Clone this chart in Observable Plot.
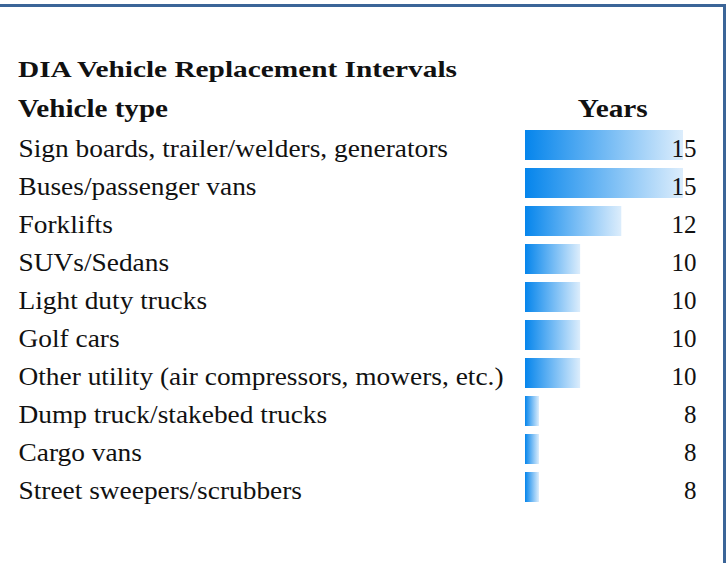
<!DOCTYPE html>
<html><head><meta charset="utf-8">
<script src="https://cdn.jsdelivr.net/npm/d3@7"></script>
<script src="https://cdn.jsdelivr.net/npm/@observablehq/plot@0.6"></script>
<style>
body{margin:0;background:#fff;}
#wrap{position:relative;width:727px;height:563px;overflow:hidden;font-family:"Liberation Serif","Times New Roman",serif;color:#111;background:#fff;}
#topline{position:absolute;left:0;top:4px;width:726px;height:3px;background:#3b6598;}
#rightline{position:absolute;left:723px;top:4px;width:3px;height:559px;background:#3b6598;}
#head{position:relative;height:122px;}
.t{position:absolute;white-space:nowrap;font-weight:bold;line-height:1;}
#title{left:18px;top:58px;font-size:23px;}
#h1{left:18px;top:96px;font-size:25px;}
#h2{right:79px;top:96px;font-size:25px;}
#chart svg{display:block;}
</style></head><body>
<div id="wrap"><div id="head"><div class="t" id="title"></div><div class="t" id="h1"></div><div class="t" id="h2"></div></div><div id="chart"></div><div id="topline"></div><div id="rightline"></div></div>
<script>
const titleText = "DIA Vehicle Replacement Intervals";
const headerLabel = "Vehicle type";
const headerValue = "Years";
const vehicleTypes = [
  "Sign boards, trailer/welders, generators",
  "Buses/passenger vans",
  "Forklifts",
  "SUVs/Sedans",
  "Light duty trucks",
  "Golf cars",
  "Other utility (air compressors, mowers, etc.)",
  "Dump truck/stakebed trucks",
  "Cargo vans",
  "Street sweepers/scrubbers"
];
const years = [15, 15, 12, 10, 10, 10, 10, 8, 8, 8];

document.getElementById("title").textContent = titleText;
document.getElementById("h1").textContent = headerLabel;
document.getElementById("h2").textContent = headerValue;

const data = vehicleTypes.map((type, i) => ({type, years: years[i]}));
const barBase = d3.min(years) - 0.68;

const chart = Plot.plot({
  width: 727,
  height: 441,
  marginTop: 0.4,
  marginBottom: 53,
  marginLeft: 18,
  marginRight: 31,
  x: {domain: [barBase, d3.max(years)], range: [525, 683], axis: null},
  y: {domain: vehicleTypes, padding: 0.2, axis: null},
  style: {fontFamily: "'Liberation Serif', 'Times New Roman', serif", color: "#111", background: "white"},
  marks: [
    Plot.barX(data, {y: "type", x1: () => barBase, x2: "years", fill: "url(#dbar)"}),
    Plot.text(data, {y: "type", text: "type", frameAnchor: "left", textAnchor: "start", dy: 3, fontSize: 25, fill: "#111"}),
    Plot.text(data, {y: "type", text: d => String(d.years), frameAnchor: "right", textAnchor: "end", dy: 3, fontSize: 25, fill: "#111"})
  ]
});
const ns = "http://www.w3.org/2000/svg";
const defs = document.createElementNS(ns, "defs");
defs.innerHTML = '<linearGradient id="dbar" x1="0" x2="1" y1="0" y2="0"><stop offset="0" stop-color="#0585ec"/><stop offset="1" stop-color="#dcedfc"/></linearGradient>';
chart.prepend(defs);
document.getElementById("chart").append(chart);

// widen label glyphs to match the reference's wider rendering
chart.querySelectorAll("text").forEach(t => {
  if (!vehicleTypes.includes(t.textContent)) return;
  const L = t.getComputedTextLength();
  t.setAttribute("textLength", (L * 1.095).toFixed(1));
  t.setAttribute("lengthAdjust", "spacingAndGlyphs");
});
function fitWidth(id, target, origin) {
  const el = document.getElementById(id);
  const w = el.getBoundingClientRect().width;
  el.style.transformOrigin = origin;
  el.style.transform = `scaleX(${target / w})`;
}
fitWidth("title", 439, "left center");
fitWidth("h1", 150, "left center");
fitWidth("h2", 70, "right center");
</script>
</body></html>
